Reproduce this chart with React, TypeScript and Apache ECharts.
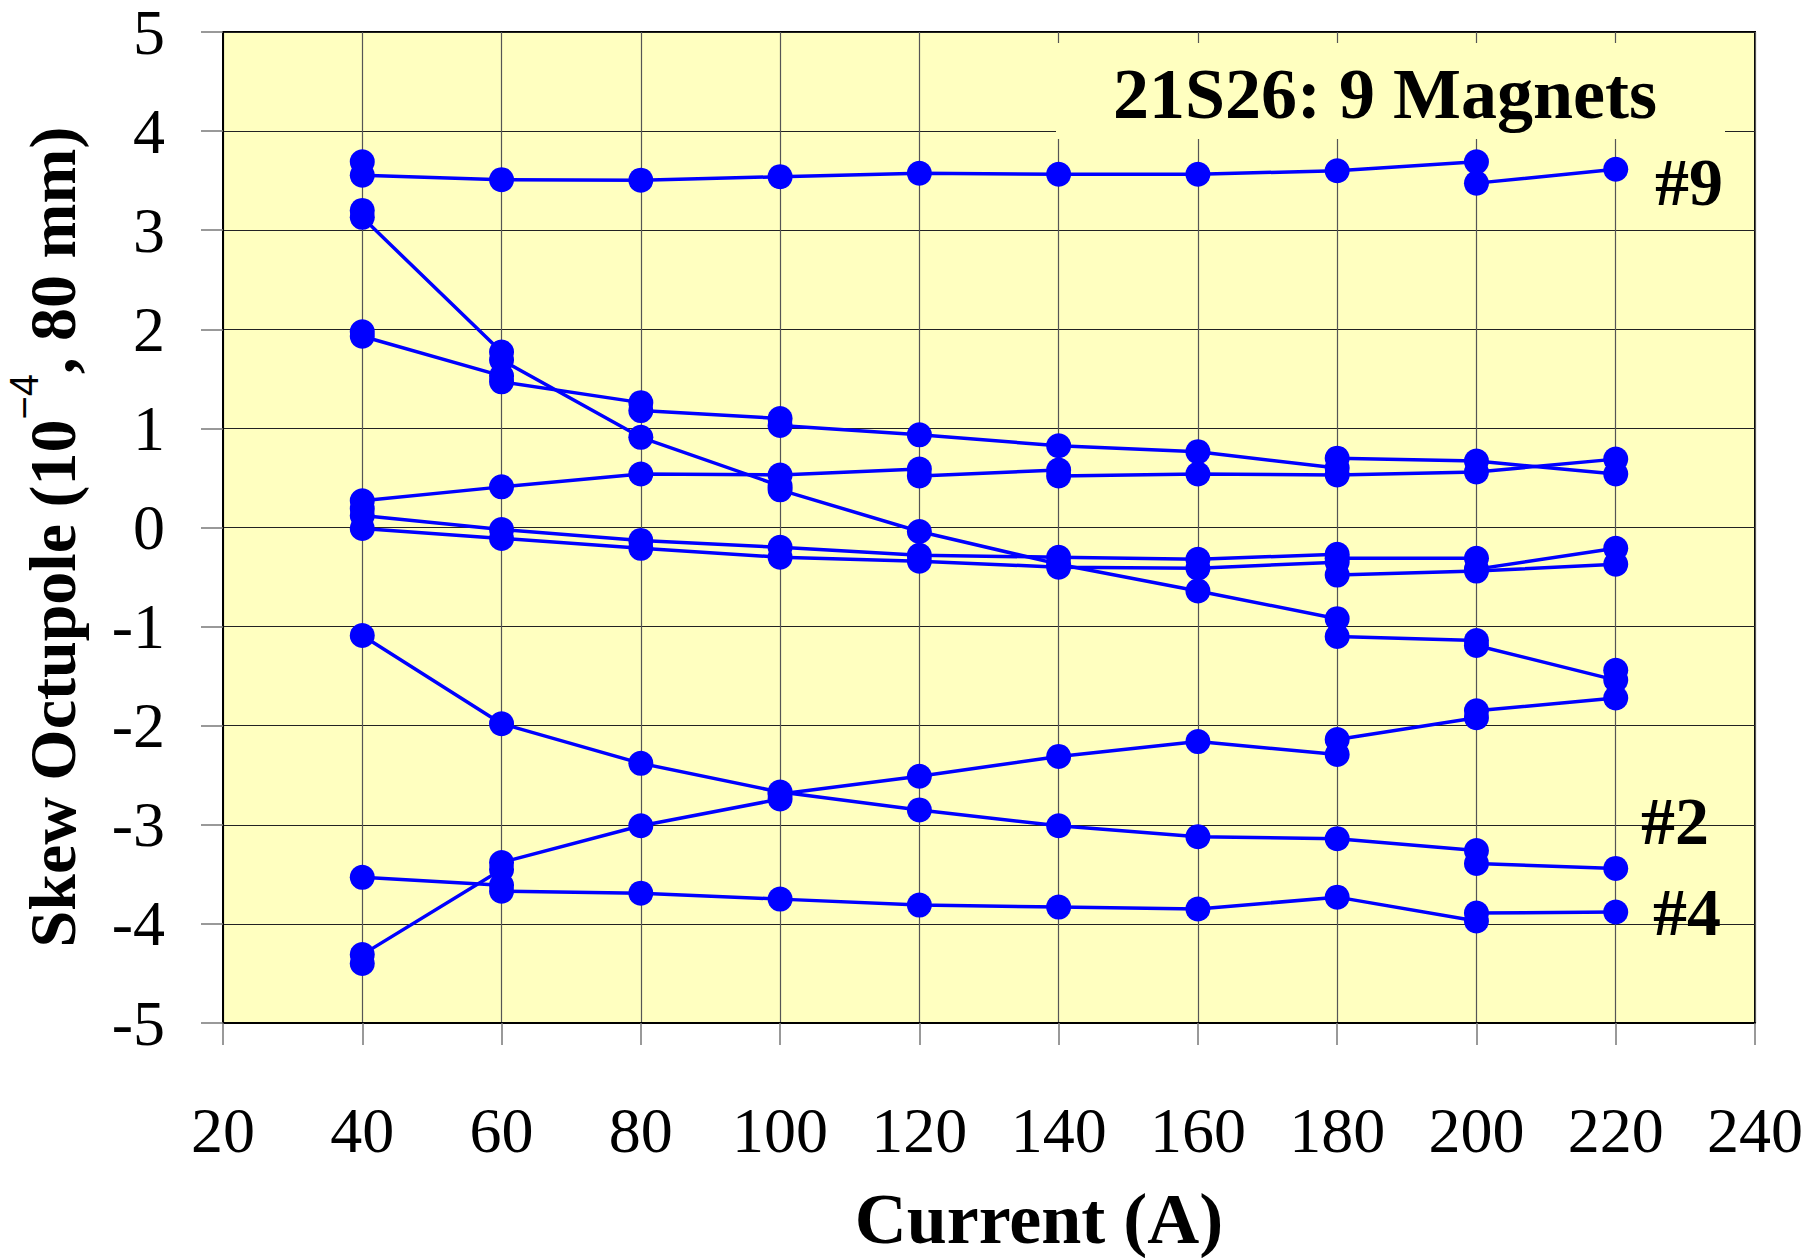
import React, { useEffect, useRef } from "react";
import * as echarts from "echarts";

// Current (A) axis and Skew Octupole axis ranges
const currentRange = [20, 240];
const octupoleRange = [-5, 5];

// Each magnet: [current (A), skew octupole (10^-4, 80 mm)]
const magnetNo9 = [
  [40, 3.69], [40, 3.555], [60, 3.51], [80, 3.505], [100, 3.54], [120, 3.575],
  [140, 3.565], [160, 3.565], [180, 3.6], [200, 3.69], [200, 3.475], [220, 3.615],
];
const magnetA = [
  [40, 3.2], [40, 3.13], [60, 1.77], [60, 1.69], [80, 0.91], [100, 0.42], [100, 0.38],
  [120, -0.04], [140, -0.37], [160, -0.64], [180, -0.92], [180, -1.1], [200, -1.14],
  [200, -1.19], [220, -1.54], [220, -1.44],
];
const magnetB = [
  [40, 1.975], [40, 1.93], [60, 1.53], [60, 1.47], [80, 1.26], [80, 1.18], [100, 1.1],
  [100, 1.03], [120, 0.935], [140, 0.825], [160, 0.765], [180, 0.6], [180, 0.7],
  [200, 0.67], [220, 0.54],
];
const magnetC = [
  [40, 0.27], [60, 0.41], [80, 0.54], [100, 0.53], [120, 0.59], [120, 0.52],
  [140, 0.58], [140, 0.52], [160, 0.54], [180, 0.53], [200, 0.56], [220, 0.69],
];
const magnetE = [
  [40, 0.19], [40, 0.12], [60, -0.02], [80, -0.13], [100, -0.2], [120, -0.28],
  [140, -0.3], [160, -0.32], [180, -0.27], [180, -0.31], [200, -0.31], [200, -0.42],
  [220, -0.21],
];
const magnetF = [
  [40, -0.01], [60, -0.11], [80, -0.21], [100, -0.3], [120, -0.34], [140, -0.4],
  [160, -0.41], [180, -0.35], [180, -0.48], [200, -0.44], [220, -0.37],
];
const magnetNo2 = [
  [40, -1.09], [60, -1.98], [80, -2.38], [100, -2.67], [120, -2.85], [140, -3.01],
  [160, -3.12], [180, -3.14], [200, -3.26], [200, -3.39], [220, -3.44],
];
const magnetH = [
  [40, -4.4], [40, -4.31], [60, -3.45], [60, -3.38], [80, -3.01], [100, -2.74],
  [100, -2.69], [120, -2.51], [140, -2.31], [160, -2.16], [180, -2.29], [180, -2.14],
  [200, -1.92], [200, -1.85], [220, -1.72],
];
const magnetNo4 = [
  [40, -3.53], [60, -3.61], [60, -3.67], [80, -3.69], [100, -3.75], [120, -3.81],
  [140, -3.83], [160, -3.85], [180, -3.73], [200, -3.97], [200, -3.89], [220, -3.88],
];

const allMagnets = [
  magnetNo9, magnetA, magnetB, magnetC, magnetE, magnetF, magnetNo2, magnetH, magnetNo4,
];

const titleText = "21S26: 9 Magnets";
const xTitle = "Current (A)";
const magnetLabels = [
  { text: "#9", x: 1689, y: 182 },
  { text: "#2", x: 1675, y: 821 },
  { text: "#4", x: 1687, y: 912 },
];

const SERIF = "'Liberation Serif', 'Times New Roman', serif";
const BLUE = "#0000FF";
const YELLOW = "#FFFFC0";

export default function App() {
  const ref = useRef<HTMLDivElement>(null);

  useEffect(() => {
    if (!ref.current) return;
    const chart = echarts.init(ref.current, null, { renderer: "svg" });

    const series = allMagnets.map((d, i) => ({
      type: "line",
      name: "magnet" + (i + 1),
      data: d,
      symbol: "circle",
      symbolSize: 25,
      lineStyle: { color: BLUE, width: 3.5 },
      itemStyle: { color: BLUE },
      z: 3,
    }));

    const option = {
      animation: false,
      grid: {
        left: 223,
        top: 31,
        width: 1532,
        height: 992,
        show: true,
        backgroundColor: YELLOW,
        borderColor: "#000",
        borderWidth: 2,
      },
      xAxis: {
        type: "value",
        min: currentRange[0],
        max: currentRange[1],
        interval: 20,
        axisLine: { show: true, onZero: false, lineStyle: { color: "#000", width: 2 } },
        axisTick: { show: true, length: 22, lineStyle: { color: "#777", width: 1.5 } },
        axisLabel: { fontSize: 64, fontFamily: SERIF, color: "#000", margin: 75 },
        splitLine: { show: true, lineStyle: { color: "#555", width: 1.2 } },
      },
      yAxis: {
        type: "value",
        min: octupoleRange[0],
        max: octupoleRange[1],
        interval: 1,
        axisLine: { show: true, onZero: false, lineStyle: { color: "#000", width: 2 } },
        axisTick: { show: true, length: 22, lineStyle: { color: "#777", width: 1.5 } },
        axisLabel: {
          fontSize: 64,
          lineHeight: 50,
          padding: [12, 0, 0, 0],
          fontFamily: SERIF,
          color: "#000",
          margin: 58,
        },
        splitLine: { show: true, lineStyle: { color: "#222", width: 1 } },
      },
      graphic: [
        {
          type: "rect",
          shape: { x: 1056, y: 43, width: 669, height: 96 },
          style: { fill: YELLOW },
          z: 100,
        },
        {
          type: "text",
          x: 1113,
          y: 94,
          z: 101,
          style: {
            text: titleText,
            font: "bold 72px " + SERIF,
            fill: "#000",
            textAlign: "left",
            textVerticalAlign: "middle",
          },
        },
        ...magnetLabels.map((l) => ({
          type: "text",
          x: l.x,
          y: l.y,
          z: 101,
          style: {
            text: l.text,
            font: "bold 68px " + SERIF,
            fill: "#000",
            textAlign: "center",
            textVerticalAlign: "middle",
          },
        })),
        {
          type: "text",
          x: 1039,
          y: 1219,
          z: 101,
          style: {
            text: xTitle,
            font: "bold 72px " + SERIF,
            fill: "#000",
            textAlign: "center",
            textVerticalAlign: "middle",
          },
        },
        {
          type: "text",
          x: 52,
          y: 537,
          rotation: Math.PI / 2,
          z: 101,
          style: {
            text: "{b|Skew Octupole (10}{s|\u22124}{b|, 80 mm)}",
            textAlign: "center",
            textVerticalAlign: "middle",
            fill: "#000",
            rich: {
              b: {
                fontFamily: SERIF,
                fontWeight: "bold",
                fontSize: 66,
                lineHeight: 96,
                fill: "#000",
              },
              s: {
                fontFamily: "'Liberation Sans', Arial, sans-serif",
                fontWeight: "normal",
                fontSize: 40,
                lineHeight: 50,
                verticalAlign: "top",
                fill: "#000",
              },
            },
          },
        },
      ],
      series,
    };

    chart.setOption(option as any);
    return () => chart.dispose();
  }, []);

  return (
    <div
      ref={ref}
      style={{ position: "absolute", left: 0, top: 0, width: 1816, height: 1258, background: "#fff" }}
    />
  );
}
